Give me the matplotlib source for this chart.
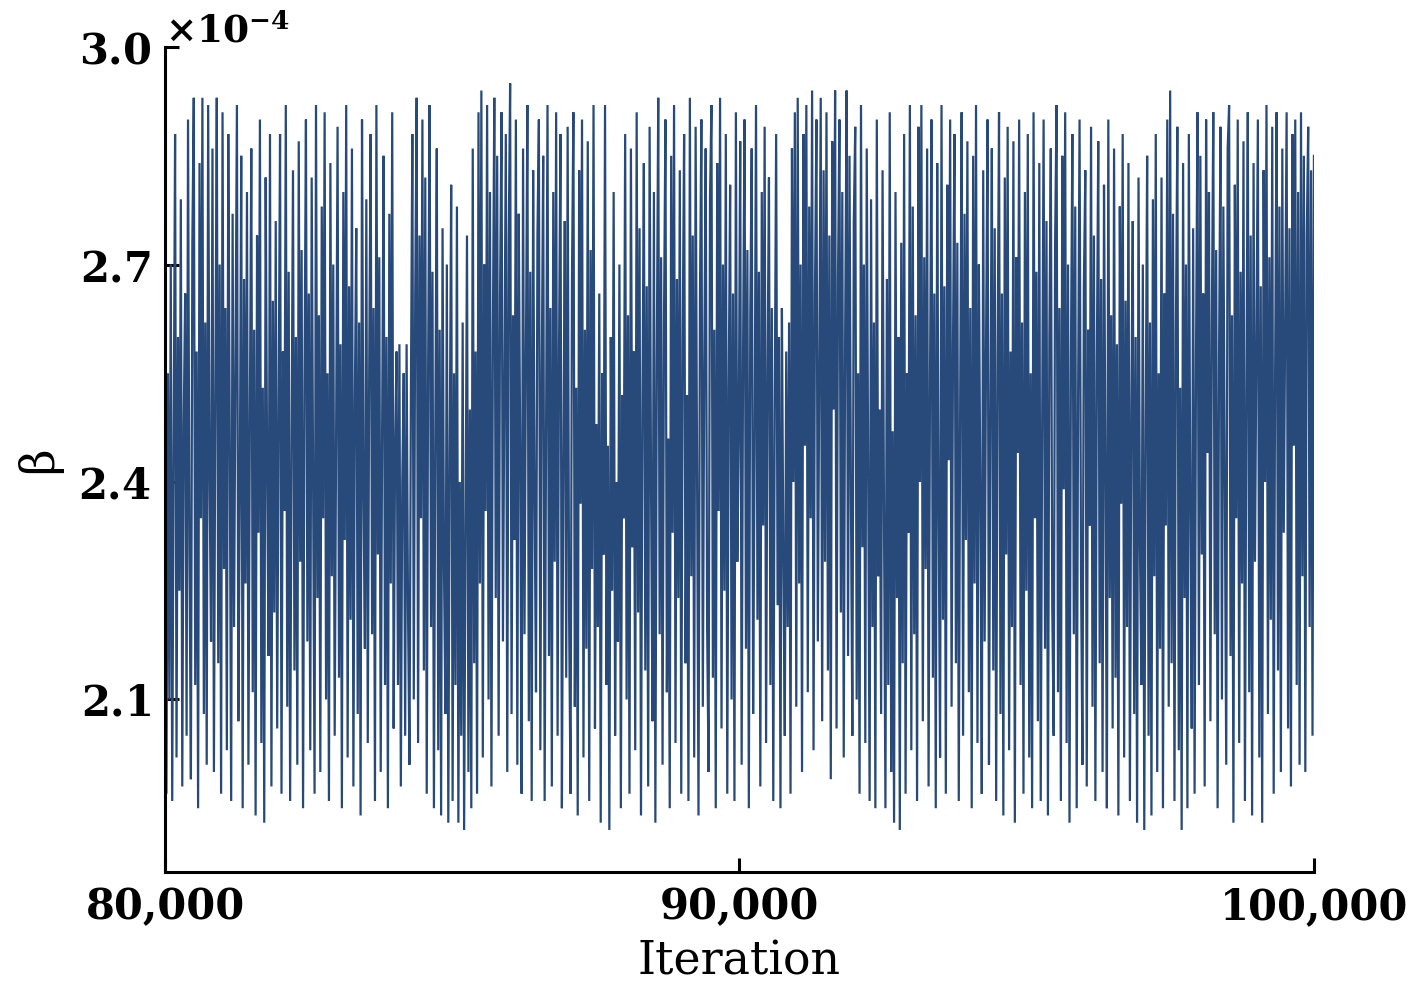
import numpy as np
import matplotlib
matplotlib.use("Agg")
import matplotlib.pyplot as plt
from matplotlib.ticker import ScalarFormatter, MultipleLocator, FuncFormatter

# Trace of beta (in units of 1e-4), iterations 80,000 .. 100,000
beta_e4 = [
    2.81,1.97,2.55,2.10,2.70,1.96,2.44,2.88,2.02,2.60,2.25,2.79,1.98,2.48,2.66,2.05,2.90,2.30,1.99,2.73,
    2.93,2.12,2.58,1.95,2.84,2.35,2.93,2.08,2.62,2.01,2.92,2.40,2.18,2.86,2.00,2.52,2.93,2.15,2.70,1.97,
    2.91,2.28,2.64,2.03,2.88,2.46,1.96,2.77,2.20,2.57,2.92,2.07,2.38,2.85,1.95,2.68,2.26,2.80,2.01,2.49,
    2.86,2.11,2.61,1.94,2.74,2.33,2.90,2.04,2.53,1.93,2.82,2.42,2.16,2.88,1.98,2.65,2.22,2.76,2.06,2.50,
    2.88,1.97,2.58,2.36,2.92,2.09,2.69,1.96,2.45,2.83,2.14,2.60,2.01,2.87,2.29,2.72,1.95,2.54,2.90,2.18,
    2.66,2.03,2.82,2.41,1.97,2.92,2.24,2.63,2.00,2.78,2.35,2.91,2.10,2.55,1.96,2.84,2.27,2.70,2.05,2.47,
    2.89,2.13,2.59,1.95,2.80,2.32,2.92,2.02,2.67,2.21,2.86,1.98,2.51,2.75,2.08,2.62,1.94,2.90,2.38,2.17,
    2.79,2.04,2.56,2.88,2.19,2.64,1.96,2.92,2.30,2.71,2.00,2.48,2.85,2.12,2.60,1.95,2.77,2.26,2.91,2.06,
    2.45,2.58,2.12,2.59,1.98,2.40,2.55,2.05,2.59,2.22,2.01,2.52,2.88,2.10,2.66,2.93,2.04,2.74,2.35,2.90,
    2.14,2.82,1.97,2.57,2.92,2.20,2.69,1.95,2.48,2.86,2.03,2.61,1.94,2.75,2.28,2.08,2.70,1.93,2.44,2.81,
    1.96,2.55,2.12,2.78,1.93,2.40,2.05,2.62,1.92,2.33,2.74,2.00,2.50,1.95,2.86,2.15,2.58,1.97,2.91,2.26,
    2.94,2.02,2.70,2.36,2.92,2.10,2.80,1.98,2.60,2.93,2.24,2.85,2.05,2.66,2.91,2.18,2.52,2.88,2.00,2.73,
    2.95,2.08,2.63,2.32,2.90,2.01,2.77,2.44,1.97,2.86,2.19,2.58,2.92,2.07,2.69,1.96,2.83,2.38,2.11,2.74,
    2.90,2.03,2.55,2.85,1.96,2.47,2.92,2.16,2.64,1.98,2.80,2.29,2.91,2.05,2.58,2.88,1.95,2.42,2.76,2.13,
    2.89,2.22,1.97,2.68,2.91,2.09,2.53,1.94,2.83,2.37,2.90,2.02,2.61,2.17,2.87,1.96,2.72,2.28,2.92,2.06,
    2.48,2.20,2.66,1.93,2.55,2.30,2.92,2.12,2.45,1.92,2.60,2.25,2.80,2.05,2.40,2.18,2.70,1.95,2.52,2.35,
    2.88,2.10,2.63,1.97,2.86,2.31,2.58,2.03,2.91,2.22,2.75,1.94,2.50,2.84,2.14,2.67,1.98,2.89,2.39,2.07,
    2.80,1.93,2.57,2.93,2.19,2.71,2.01,2.62,2.90,2.11,2.46,1.95,2.85,2.33,2.92,2.04,2.68,2.24,2.83,1.97,
    2.60,2.88,2.15,2.52,1.96,2.93,2.27,2.74,2.02,2.89,2.41,1.94,2.65,2.90,2.09,2.56,2.86,2.20,2.00,2.79,
    2.92,2.13,2.61,1.95,2.84,2.36,2.93,2.06,2.70,2.25,2.88,1.97,2.53,2.81,2.10,2.66,1.96,2.91,2.29,2.47,
    2.87,2.01,2.58,2.90,2.17,2.72,1.95,2.63,2.86,2.08,2.44,2.92,2.21,2.69,1.98,2.80,2.34,2.89,2.04,2.55,
    2.82,2.12,2.64,1.96,2.50,2.88,2.23,2.60,1.95,2.64,2.30,2.05,2.58,2.20,2.62,1.97,2.86,2.40,2.91,2.09,
    2.93,2.26,2.70,2.00,2.88,2.45,2.92,2.11,2.78,2.35,2.94,2.03,2.66,2.90,2.18,2.57,2.93,2.07,2.83,2.29,
    2.91,2.14,2.74,1.99,2.87,2.50,2.94,2.06,2.68,2.90,2.22,2.80,2.02,2.61,2.94,2.16,2.85,2.38,2.05,2.76,
    2.89,2.10,2.55,1.97,2.92,2.31,2.70,2.04,2.86,2.42,1.96,2.79,2.20,2.62,1.95,2.90,2.27,2.50,2.08,2.83,
    2.35,1.95,2.68,2.12,2.91,2.00,2.47,1.93,2.80,2.24,2.60,1.92,2.73,2.15,2.88,1.97,2.55,2.33,2.92,2.03,
    2.78,2.19,2.63,1.96,2.89,2.40,2.92,2.07,2.71,2.28,2.86,1.98,2.54,2.90,2.13,2.66,1.95,2.84,2.36,2.02,
    2.92,2.21,2.67,1.97,2.81,2.43,2.90,2.09,2.59,2.88,2.15,2.73,1.96,2.52,2.91,2.05,2.77,2.32,2.87,2.11,
    2.64,1.95,2.85,2.26,2.92,2.04,2.70,2.38,1.97,2.83,2.18,2.60,2.90,2.01,2.49,2.86,2.14,2.75,1.96,2.57,
    2.91,2.08,2.66,1.94,2.82,2.30,2.89,2.03,2.58,2.20,2.87,1.93,2.71,2.44,2.90,2.12,2.62,1.97,2.80,2.25,
    2.88,2.02,2.55,1.95,2.91,2.35,2.69,2.07,2.84,1.96,2.48,2.90,2.17,2.76,1.94,2.60,2.86,2.23,2.05,2.73,
    2.92,2.11,2.64,1.96,2.85,2.39,2.91,2.04,2.70,1.93,2.57,2.88,2.19,2.78,1.95,2.52,2.90,2.28,2.01,2.67,
    2.83,1.98,2.61,2.34,2.89,2.09,2.74,1.96,2.56,2.87,2.15,2.68,2.00,2.81,2.42,1.95,2.90,2.24,2.63,2.06,
    2.86,2.13,2.59,1.94,2.78,2.37,2.88,2.02,2.65,2.20,2.84,1.96,2.50,2.76,2.08,2.60,1.93,2.82,2.31,2.12,
    2.70,1.92,2.48,2.85,2.05,2.62,1.94,2.79,2.27,2.88,2.00,2.55,2.17,2.82,1.95,2.66,2.34,2.90,2.09,2.94,
    2.15,2.77,1.96,2.61,2.89,2.03,2.53,1.92,2.84,2.24,2.70,1.95,2.88,2.36,2.06,2.75,1.97,2.58,2.91,2.12,
    2.85,2.30,2.66,1.98,2.90,2.44,2.80,2.07,2.62,2.91,2.19,2.72,1.95,2.57,2.89,2.10,2.78,2.38,2.01,2.86,
    2.92,2.16,2.63,1.93,2.81,2.35,2.90,2.04,2.69,2.26,2.87,1.96,2.52,2.91,2.11,2.74,1.94,2.84,2.29,2.59,
    2.90,2.02,2.67,1.93,2.83,2.40,2.92,2.08,2.71,2.21,2.89,1.97,2.55,2.91,2.14,2.78,2.00,2.86,2.33,2.62,
    2.91,2.06,2.75,1.98,2.88,2.45,2.90,2.12,2.80,2.01,2.91,2.27,2.85,2.00,2.74,2.89,2.20,2.83,2.05,2.85,
]
iter_start = 80000
iter_end = 100000
x_ticks = [80000, 90000, 100000]
x_label = "Iteration"
y_label = "β"

beta = np.array(beta_e4) * 1e-4
iterations = np.linspace(iter_start, iter_end, len(beta))

plt.rcParams['mathtext.fontset'] = 'dejavuserif'
plt.rcParams['mathtext.default'] = 'bf'
plt.rcParams['font.family'] = ['DejaVu Serif']

fig = plt.figure(figsize=(14.08, 9.82), dpi=100)
ax = fig.add_axes([0.1172, 0.1120, 0.9332 - 0.1172, 0.9521 - 0.1120])

ax.plot(iterations, beta, color='#284a7a', lw=1.6, solid_joinstyle='miter')

ax.set_xlim(iter_start, iter_end)
ax.set_ylim(1.862e-4, 3.0e-4)

ax.spines['top'].set_visible(False)
ax.spines['right'].set_visible(False)
for s in ('left', 'bottom'):
    ax.spines[s].set_linewidth(2.2)

ax.set_xticks(x_ticks)
ax.xaxis.set_major_formatter(FuncFormatter(lambda v, p: f"{int(round(v)):,}"))
ax.yaxis.set_major_locator(MultipleLocator(3e-5))
fmt = ScalarFormatter(useMathText=True)
fmt.set_powerlimits((-3, 3))
ax.yaxis.set_major_formatter(fmt)

ax.tick_params(direction='in', length=10, width=2.2, labelsize=30, pad=10)
for lbl in ax.get_xticklabels() + ax.get_yticklabels():
    lbl.set_fontweight('bold')
ax.yaxis.get_offset_text().set_fontsize(27)
ax.yaxis.get_offset_text().set_fontweight('bold')

ax.set_xlabel(x_label, fontsize=33, labelpad=8)
ax.set_ylabel(y_label, fontsize=33, labelpad=12)

fig.savefig("out.png", dpi=100)
